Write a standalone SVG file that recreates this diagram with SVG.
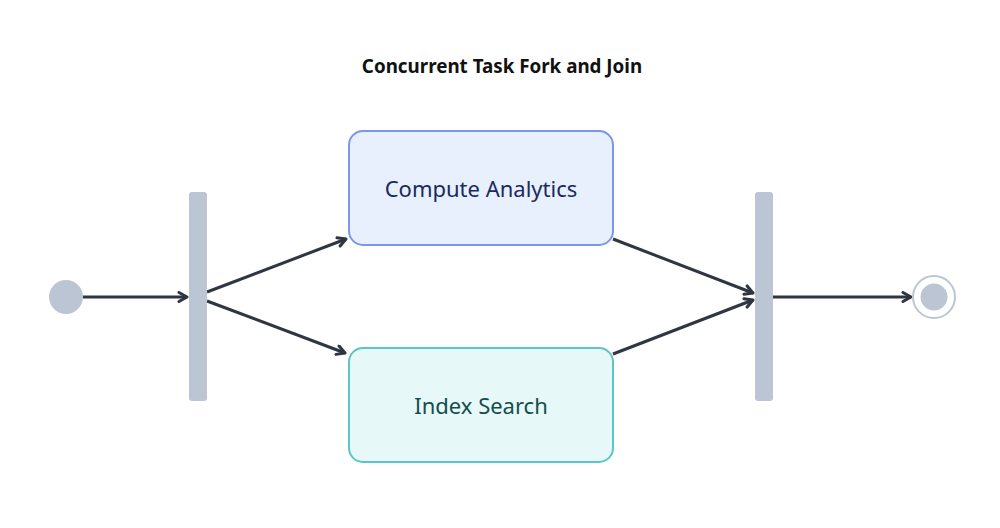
<svg xmlns="http://www.w3.org/2000/svg" width="1000" height="528" viewBox="0 0 1000 528">
<style>
.title{font-family:"Source Sans Pro","Noto Sans","Liberation Sans",sans-serif;font-weight:700;font-size:18.8px;fill:#111111}
.lbl{font-family:"Source Sans Pro","Noto Sans","Liberation Sans",sans-serif;font-size:22px;text-anchor:middle;dominant-baseline:central}
.bar{fill:#bcc5d3}
.edge{fill:none;stroke:#2f3542;stroke-width:3;marker-end:url(#arr)}
</style>
<defs>
<marker id="arr" viewBox="0 0 12 12" refX="10" refY="6" markerWidth="12" markerHeight="12" markerUnits="userSpaceOnUse" orient="auto">
<path d="M2,1.5 L10,6 L2,10.5" fill="none" stroke="#2f3542" stroke-width="3" stroke-linecap="round" stroke-linejoin="round"/>
</marker>
</defs>
<rect width="1000" height="528" fill="#ffffff"/>
<text class="title" x="502" y="73" text-anchor="middle">Concurrent Task Fork and Join</text>
<g id="connectors">
<line class="edge" x1="83" y1="297" x2="187" y2="297"/>
<line class="edge" x1="207" y1="292" x2="346" y2="239"/>
<line class="edge" x1="207" y1="301" x2="345" y2="353"/>
<line class="edge" x1="613" y1="239" x2="753" y2="293"/>
<line class="edge" x1="613" y1="354" x2="753" y2="300"/>
<line class="edge" x1="773" y1="297" x2="911" y2="297"/>
</g>
<g id="start"><circle cx="66" cy="297" r="17" fill="#bcc5d3"/></g>
<g id="fork"><rect class="bar" x="189" y="192" width="18" height="209" rx="3"/></g>
<g id="compute"><rect x="349" y="131" width="264" height="114" rx="14" fill="#e8f0fd" stroke="#7b96ea" stroke-width="2"/><text class="lbl" x="481" y="188" fill="#1a2a5e">Compute Analytics</text></g>
<g id="index"><rect x="349" y="348" width="264" height="114" rx="14" fill="#e6f8f8" stroke="#5cc6c4" stroke-width="2"/><text class="lbl" x="481" y="405" fill="#134e4a">Index Search</text></g>
<g id="join"><rect class="bar" x="755" y="192" width="18" height="209" rx="3"/></g>
<g id="end"><circle cx="934" cy="297" r="21" fill="#ffffff" stroke="#bcc5d3" stroke-width="2"/><circle cx="934" cy="297" r="13.5" fill="#bcc5d3"/></g>
</svg>
